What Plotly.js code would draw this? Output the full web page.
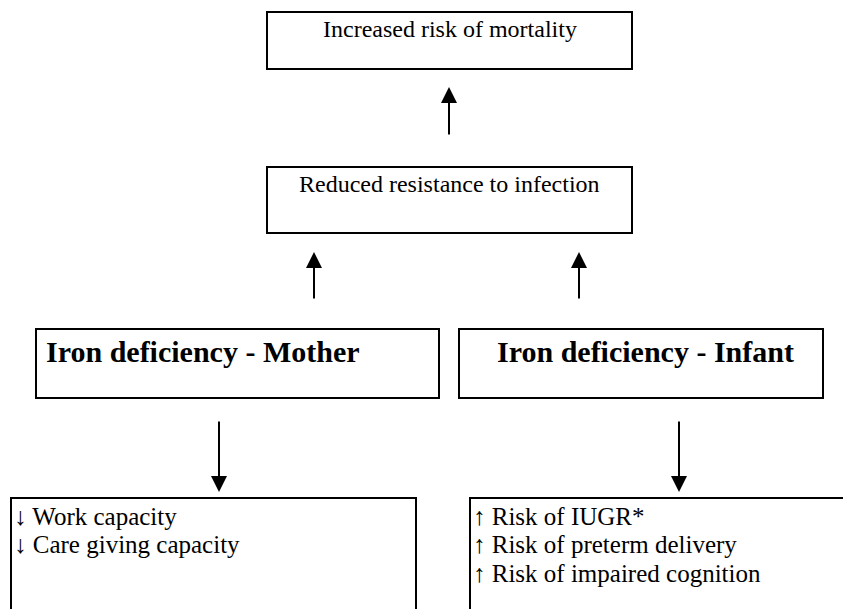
<!DOCTYPE html>
<html>
<head>
<meta charset="utf-8">
<script src="https://cdn.plot.ly/plotly-3.0.1.min.js"></script>
<style>html,body{margin:0;padding:0;background:#fff;}#chart{width:843px;height:609px;}</style>
</head>
<body>
<div id="chart"></div>
<script>
// ---- content ----
const outcomeTop = 'Increased risk of mortality';
const outcomeMid = 'Reduced resistance to infection';
const causeLabels = ['Iron deficiency - Mother', 'Iron deficiency - Infant'];
const motherEffects = ['\u2193 Work capacity', '\u2193 Care giving capacity'];
const infantEffects = ['\u2191 Risk of IUGR*', '\u2191 Risk of preterm delivery', '\u2191 Risk of impaired cognition'];

// ---- layout geometry (pixel space) ----
const boxes = [
  {x0: 267, x1: 632, y0: 12, y1: 69},
  {x0: 267, x1: 632, y0: 167, y1: 233},
  {x0: 36, x1: 439, y0: 329, y1: 398},
  {x0: 459, x1: 823, y0: 329, y1: 398},
  {x0: 11, x1: 416, y0: 498, y1: 640},
  {x0: 470, x1: 860, y0: 498, y1: 640}
];
const arrows = [
  {x: 449, tail: 136, tip: 87},
  {x: 314, tail: 300, tip: 252},
  {x: 579, tail: 300, tip: 252},
  {x: 219, tail: 420, tip: 492},
  {x: 679, tail: 420, tip: 492}
];
const serif = 'Liberation Serif, DejaVu Serif, serif';
const lineGap = 28.5;

const shapes = boxes.map(b => ({
  type: 'rect', xref: 'x', yref: 'y', x0: b.x0, x1: b.x1, y0: b.y0, y1: b.y1,
  line: {color: '#000', width: 2}, fillcolor: 'rgba(0,0,0,0)'
}));

const annotations = [];
function txt(text, x, y, size, anchor, bold) {
  annotations.push({text: bold ? '<b>' + text + '</b>' : text, x: x, y: y, xref: 'x', yref: 'y',
    showarrow: false, xanchor: anchor, yanchor: 'middle',
    font: {family: serif, size: size, color: '#000'}});
}
txt(outcomeTop, (boxes[0].x0 + boxes[0].x1) / 2, 29, 24, 'center');
txt(outcomeMid, (boxes[1].x0 + boxes[1].x1) / 2, 184, 24, 'center');
txt(causeLabels[0], 44, 351, 30, 'left', true);
txt(causeLabels[1], 645, 351, 30, 'center', true);
motherEffects.forEach((t, i) => txt(t, boxes[4].x0 + 1, 516 + i * lineGap, 25, 'left'));
infantEffects.forEach((t, i) => txt(t, boxes[5].x0 + 1, 516 + i * lineGap, 25, 'left'));

arrows.forEach(a => annotations.push({
  text: '', x: a.x, y: a.tip, ax: a.x, ay: a.tail, xref: 'x', yref: 'y', axref: 'x', ayref: 'y',
  showarrow: true, arrowhead: 2, arrowwidth: 2, arrowsize: 1.6, arrowcolor: '#000', standoff: 0
}));

const layout = {
  width: 843, height: 609,
  margin: {l: 0, r: 0, t: 0, b: 0},
  paper_bgcolor: '#fff', plot_bgcolor: '#fff',
  xaxis: {range: [0, 843], visible: false, fixedrange: true},
  yaxis: {range: [609, 0], visible: false, fixedrange: true},
  shapes: shapes, annotations: annotations, showlegend: false
};
Plotly.newPlot('chart', [], layout, {staticPlot: true, displayModeBar: false});
</script>
</body>
</html>
